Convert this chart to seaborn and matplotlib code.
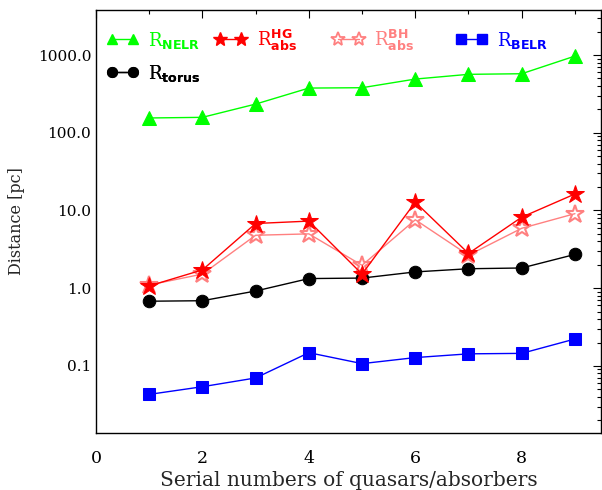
import numpy as np
import pandas as pd
import matplotlib
matplotlib.use("Agg")
import matplotlib.pyplot as plt
import matplotlib.ticker as mticker
from matplotlib.lines import Line2D
import seaborn as sns

# Serial numbers of the quasars / absorbers
serial = [1, 2, 3, 4, 5, 6, 7, 8, 9]

# Characteristic distances in pc
r_nelr = [155, 158, 234, 376, 380, 491, 565, 575, 970]
r_abs_hg = [1.07, 1.72, 6.8, 7.3, 1.52, 12.8, 2.8, 8.2, 16.3]
r_abs_bh = [1.10, 1.52, 4.8, 5.0, 1.97, 7.6, 2.66, 5.9, 9.1]
r_torus = [0.68, 0.69, 0.92, 1.33, 1.35, 1.62, 1.78, 1.82, 2.72]
r_belr = [0.043, 0.054, 0.070, 0.148, 0.107, 0.128, 0.143, 0.145, 0.222]

y_ticks = [0.1, 1.0, 10.0, 100.0, 1000.0]
x_ticks = [0, 2, 4, 6, 8]

sns.set_theme(style="white")
plt.rcParams["font.family"] = ["DejaVu Serif"]
plt.rcParams["mathtext.fontset"] = "custom"
plt.rcParams["mathtext.rm"] = "DejaVu Serif"
plt.rcParams["mathtext.it"] = "DejaVu Serif:italic"
plt.rcParams["mathtext.bf"] = "DejaVu Sans:bold"

GREEN = "#00ff00"
RED = "#ff0000"
PINK = "#ff8080"
BLUE = "#0000ff"
BLACK = "#000000"

df = pd.DataFrame({
    "serial": serial,
    "nelr": r_nelr,
    "hg": r_abs_hg,
    "bh": r_abs_bh,
    "torus": r_torus,
    "belr": r_belr,
})

fig = plt.figure(figsize=(6.02, 4.90), dpi=100)
ax = fig.add_axes([96 / 602, 57 / 490, 505 / 602, 423 / 490])

common = dict(ax=ax, x="serial", legend=False, linewidth=1.0)
sns.lineplot(data=df, y="nelr", color=GREEN, marker="^", markersize=9.5,
             markeredgecolor=GREEN, **common)
sns.lineplot(data=df, y="torus", color=BLACK, marker="o", markersize=9,
             markeredgecolor=BLACK, **common)
sns.lineplot(data=df, y="belr", color=BLUE, marker="s", markersize=9,
             markeredgecolor=BLUE, **common)
sns.lineplot(data=df, y="bh", color=PINK, marker="*", markersize=13.5,
             markerfacecolor="none", markeredgecolor=PINK, markeredgewidth=1.5,
             **common)
sns.lineplot(data=df, y="hg", color=RED, marker="*", markersize=13.5,
             markeredgecolor=RED, **common)

ax.set_yscale("log")
ax.set_xlim(0, 9.49)
ax.set_ylim(0.0137, 3800)

ax.yaxis.set_major_locator(mticker.FixedLocator(y_ticks))
ax.yaxis.set_major_formatter(mticker.FuncFormatter(lambda v, p: f"{v:.1f}"))
ax.yaxis.set_minor_locator(mticker.LogLocator(base=10, subs=np.arange(2, 10), numticks=20))
ax.yaxis.set_minor_formatter(mticker.NullFormatter())
ax.xaxis.set_major_locator(mticker.FixedLocator(x_ticks))
ax.xaxis.set_minor_locator(mticker.MultipleLocator(1))

ax.tick_params(which="both", direction="in", top=True, right=True, colors="black")
ax.tick_params(axis="y", labelsize=11)
ax.tick_params(axis="x", labelsize=12.5, pad=12)
ax.tick_params(which="major", length=6, width=0.8)
ax.tick_params(which="minor", length=3, width=0.8)
for s in ax.spines.values():
    s.set_color("black")
    s.set_linewidth(1.0)

ax.set_xlabel("Serial numbers of quasars/absorbers", fontsize=14.5, labelpad=3)
ax.set_ylabel("Distance [pc]", fontsize=11.5, labelpad=9)


def handle(color, marker, ms, fill=True):
    return Line2D([], [], color=color, lw=1.0, marker=marker, markersize=ms,
                  markerfacecolor=color if fill else "none",
                  markeredgecolor=color, markeredgewidth=1.3 if not fill else 1.0)


leg_kw = dict(frameon=False, numpoints=2, handlelength=1.77, handletextpad=0.55,
              fontsize=13, borderaxespad=0, borderpad=0)

# One legend per entry, laid out in two rows along the top of the axes
row1, row2 = 0.929, 0.851
entries = [
    (handle(GREEN, "^", 7.5), r"R$_{\mathbf{NELR}}$", GREEN, 0.021, row1),
    (handle(RED, "*", 10), r"R$^{\mathbf{HG}}_{\mathbf{abs}}$", RED, 0.235, row1),
    (handle(PINK, "*", 10, fill=False), r"R$^{\mathbf{BH}}_{\mathbf{abs}}$", PINK, 0.468, row1),
    (handle(BLUE, "s", 7), r"R$_{\mathbf{BELR}}$", BLUE, 0.712, row1),
    (handle(BLACK, "o", 7), r"R$_{\mathbf{torus}}$", BLACK, 0.021, row2),
]
for h, label, color, xpos, ypos in entries:
    leg = ax.legend([h], [label], loc="center left", bbox_to_anchor=(xpos, ypos),
                    labelcolor=[color], **leg_kw)
    ax.add_artist(leg)

fig.savefig("out.png", dpi=100)
